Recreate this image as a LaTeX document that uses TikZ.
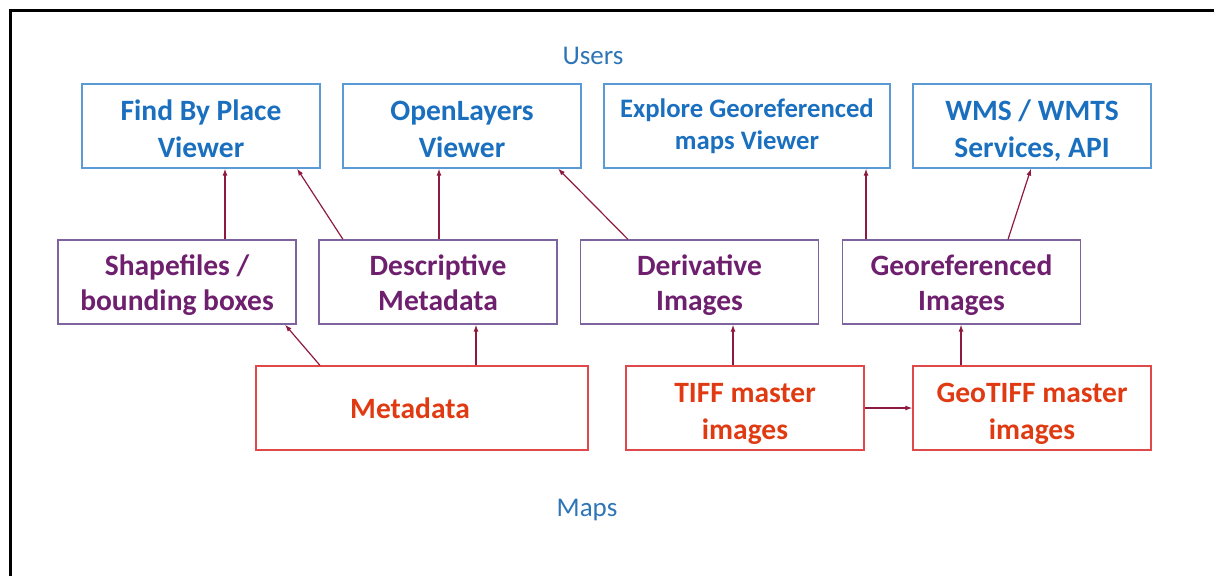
\documentclass[tikz,border=0pt]{standalone}
\usepackage{fontspec}
\setmainfont{Carlito}
\usetikzlibrary{arrows.meta}
\definecolor{userblue}{HTML}{2E75B6}
\definecolor{viewline}{HTML}{5B9BD5}
\definecolor{viewtext}{HTML}{1A6FBF}
\definecolor{midline}{HTML}{7E649E}
\definecolor{midtext}{HTML}{6E1F6E}
\definecolor{srcline}{HTML}{E0484A}
\definecolor{srctext}{HTML}{E03A12}
\definecolor{linkred}{HTML}{8E1B3E}
% two centred lines, with struts fixing the height above the first
% baseline and the depth below the last one
\newcommand\twolines[4]{\rule{0pt}{#1}#3\\#4\rule[-#2]{0pt}{#2}}
\tikzset{
  x=1pt, y=-1pt,
  box/.style={draw, line width=1.2pt, minimum height=84pt, align=center,
    inner sep=0pt, font=\fontsize{29.5}{37}\selectfont\bfseries},
  viewbox/.style={box, draw=viewline, text=viewtext, minimum width=238pt},
  midbox/.style={box, draw=midline, text=midtext, minimum width=238pt,
    font=\fontsize{29.5}{35}\selectfont\bfseries},
  srcbox/.style={box, draw=srcline, text=srctext, minimum width=238pt,
    font=\fontsize{29.5}{37}\selectfont\bfseries},
  link/.style={draw=linkred, line width=1.2pt, -{Latex[length=7pt,width=5pt]}},
  caption/.style={text=userblue, font=\fontsize{27}{32}\selectfont}
}
\newcommand\toptext[2]{\twolines{34.7pt}{8pt}{#1}{#2}}
\newcommand\midtext[2]{\twolines{30.4pt}{8pt}{#1}{#2}}
\newcommand\srctext[2]{\twolines{33pt}{8pt}{#1}{#2}}
\begin{document}
\begin{tikzpicture}
\useasboundingbox (0,0) rectangle (1214,576);
\draw[line width=3pt] (10.5,576) -- (10.5,10.5) -- (1214,10.5);

\node[caption] (users) at (593,56) {Users};
\node[caption] (maps) at (587,510) {Maps};

% top row: viewers and services
\node[viewbox] (find) at (201,126) {\toptext{Find By Place}{Viewer}};
\node[viewbox] (ol) at (462,126) {\toptext{OpenLayers}{Viewer}};
\node[viewbox, minimum width=286pt, font=\fontsize{26.7}{32.3}\selectfont\bfseries] (explore) at (747,126)
  {\twolines{26.3pt}{12pt}{Explore Georeferenced}{maps Viewer}};
\node[viewbox] (wms) at (1032,126) {\toptext{WMS / WMTS}{Services, API}};

% middle row: derived data
\node[midbox] (shp) at (177,282) {\midtext{Shapefiles /}{bounding boxes}};
\node[midbox] (desc) at (438,282) {\midtext{Descriptive}{Metadata}};
\node[midbox] (deriv) at (699.5,282) {\midtext{Derivative}{Images}};
\node[midbox] (georef) at (961.5,282) {\midtext{Georeferenced}{Images}};

% bottom row: masters
\node[srcbox, minimum width=332pt] (meta) at (422,408) {Metadata\hspace*{24pt}};
\node[srcbox] (tiff) at (745,408) {\srctext{TIFF master}{images}};
\node[srcbox] (geotiff) at (1032,408) {\srctext{GeoTIFF master}{images}};

% middle row to top row
\draw[link] (shp.north -| 225,0) -- (find.south -| 225,0);
\draw[link] (desc.north -| 343,0) -- (find.south -| 297,0);
\draw[link] (desc.north -| 439,0) -- (ol.south -| 439,0);
\draw[link] (deriv.north -| 628,0) -- (ol.south -| 558,0);
\draw[link] (georef.north -| 866,0) -- (explore.south -| 866,0);
\draw[link] (georef.north -| 1008,0) -- (wms.south -| 1031,0);

% bottom row to middle row
\draw[link] (meta.north -| 320,0) -- (shp.south -| 285,0);
\draw[link] (meta.north -| 476,0) -- (desc.south -| 476,0);
\draw[link] (tiff.north -| 733,0) -- (deriv.south -| 733,0);
\draw[link] (geotiff.north -| 961,0) -- (georef.south -| 961,0);
\draw[link] (tiff.east) -- (geotiff.west);
\end{tikzpicture}
\end{document}
